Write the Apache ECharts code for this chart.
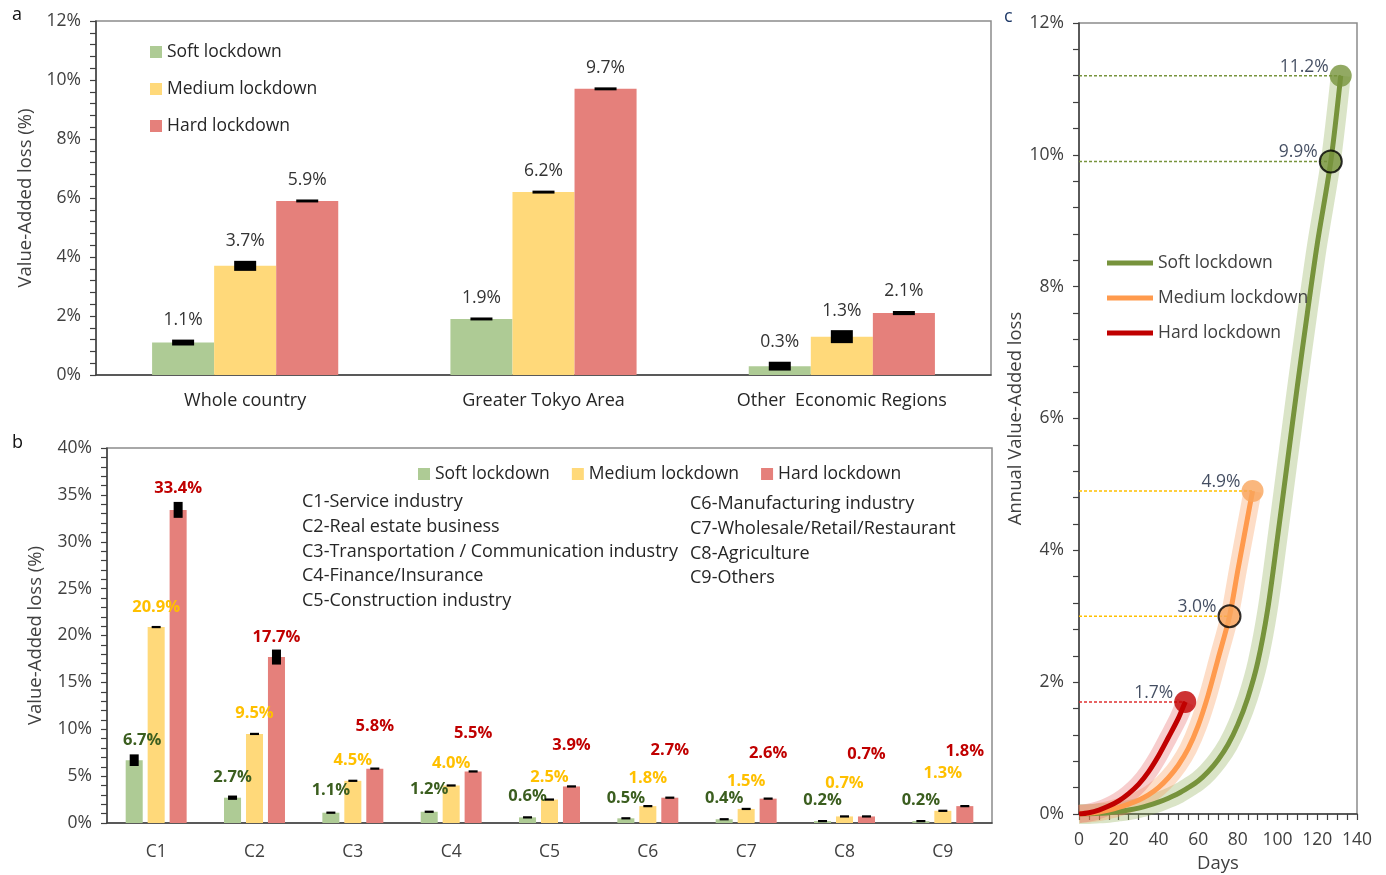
<!DOCTYPE html>
<html>
<head>
<meta charset="utf-8">
<script src="https://cdn.jsdelivr.net/npm/echarts@6/dist/echarts.min.js"></script>
<style>
  html, body { margin: 0; padding: 0; background: #fff; }
  #chart { width: 1386px; height: 875px; }
</style>
</head>
<body>
<div id="chart"></div>
<script>
// ---------- data ----------
const lockdowns = ['Soft lockdown', 'Medium lockdown', 'Hard lockdown'];

// (a) value-added loss by region, %
const regions = ['Whole country', 'Greater Tokyo Area', 'Other  Economic Regions'];
const regionSoft = [1.1, 1.9, 0.3];
const regionMedium = [3.7, 6.2, 1.3];
const regionHard = [5.9, 9.7, 2.1];
const regionSoftErr = [0.10, 0.05, 0.15];
const regionMediumErr = [0.17, 0.05, 0.22];
const regionHardErr = [0.05, 0.05, 0.07];

// (b) value-added loss by sector, %
const sectors = ['C1', 'C2', 'C3', 'C4', 'C5', 'C6', 'C7', 'C8', 'C9'];
const sectorSoft = [6.7, 2.7, 1.1, 1.2, 0.6, 0.5, 0.4, 0.2, 0.2];
const sectorMedium = [20.9, 9.5, 4.5, 4.0, 2.5, 1.8, 1.5, 0.7, 1.3];
const sectorHard = [33.4, 17.7, 5.8, 5.5, 3.9, 2.7, 2.6, 0.7, 1.8];
const sectorSoftErr = [0.62, 0.23, 0.12, 0.12, 0.12, 0.12, 0.12, 0.12, 0.12];
const sectorMediumErr = [0.12, 0.12, 0.12, 0.12, 0.12, 0.12, 0.12, 0.12, 0.12];
const sectorHardErr = [0.85, 0.80, 0.12, 0.12, 0.12, 0.12, 0.12, 0.12, 0.12];
const sectorNotesLeft = [
  'C1-Service industry',
  'C2-Real estate business',
  'C3-Transportation / Communication industry',
  'C4-Finance/Insurance',
  'C5-Construction industry'
];
const sectorNotesRight = [
  'C6-Manufacturing industry',
  'C7-Wholesale/Retail/Restaurant',
  'C8-Agriculture',
  'C9-Others'
];

// (c) annual value-added loss over lockdown days, [day, %]
const softCurve = [[0, 0], [5, 0], [10, 0.01], [15, 0.02], [20, 0.04], [25, 0.06], [30, 0.09],
  [35, 0.13], [40, 0.18], [45, 0.24], [50, 0.31], [55, 0.4], [60, 0.5], [65, 0.64], [70, 0.82],
  [75, 1.05], [80, 1.36], [85, 1.76], [90, 2.3], [95, 3.1], [100, 4.2], [105, 5.35], [110, 6.5],
  [115, 7.6], [120, 8.65], [126.8, 9.9], [131.8, 11.2]];
const mediumCurve = [[0, 0], [5, 0.01], [10, 0.03], [15, 0.06], [20, 0.1], [25, 0.15], [30, 0.21],
  [35, 0.29], [40, 0.4], [45, 0.55], [50, 0.74], [55, 0.99], [60, 1.34], [65, 1.8], [70, 2.35],
  [75.8, 3.0], [80, 3.7], [84, 4.35], [87.4, 4.9]];
const hardCurve = [[0, 0], [5, 0.02], [10, 0.06], [15, 0.12], [20, 0.2], [25, 0.31], [30, 0.45],
  [35, 0.64], [40, 0.88], [45, 1.16], [50, 1.45], [53.5, 1.7]];
const softMarks = [[126.8, 9.9], [131.8, 11.2]];
const mediumMarks = [[75.8, 3.0], [87.4, 4.9]];
const hardMarks = [[53.5, 1.7]];

// ---------- layout / styling ----------
const FONT = '"Open Sans", sans-serif';
const AXIS = '#404040';
const BORDER = '#8c8c8c';
const BAR_COLORS = ['#AECB95', '#FFD97A', '#E5807B'];
const SECTOR_LABEL_COLORS = ['#3B5E1F', '#FFC000', '#C00000'];
const CURVE_COLORS = ['#77933C', '#FF9A4D', '#C00000'];
const MARK_COLORS = ['#77933C', '#F9A55C', '#C00000'];
const BAND_COLORS = ['rgba(140,170,80,0.32)', 'rgba(250,150,80,0.32)', 'rgba(230,90,90,0.30)'];
const BAND_WIDTHS = [20, 18, 18];
const GUIDE_COLORS = ['#77933C', '#FFC000', '#E03030'];

// label lift (px above bar top) for panel b
const sectorSoftLift = [20, 20, 22, 22, 21, 20, 21, 21, 21];
const sectorMediumLift = [20, 21, 21, 22, 22, 28, 28, 33, 38];
const sectorHardLift = [22, 20, 42, 38, 41, 47, 45, 62, 55];
const sectorSoftShift = [8, 0, 0, 0, 0, 0, 0, 0, 0];

const A_CAT_GAP = 0.376, A_BAR_GAP = 0;
const B_CAT_GAP = 0.38, B_BAR_GAP = 0.29;

// error bar (black box) plus value label drawn at the bar position
function errorBars(o) {
  return {
    type: 'custom',
    xAxisIndex: o.axis, yAxisIndex: o.axis,
    z: 5, silent: true, clip: false,
    data: o.values.map((v, i) => [i, v, o.errs[i]]),
    encode: { x: 0, y: 1 },
    renderItem(params, api) {
      const i = api.value(0), v = api.value(1), e = api.value(2);
      const band = api.size([1, 0])[0];
      const groupW = band * (1 - o.catGap);
      const w = groupW / (o.slots + (o.slots - 1) * o.barGap);
      const base = api.coord([i, v]);
      const x = base[0] - groupW / 2 + w / 2 + o.slot * w * (1 + o.barGap);
      const yHi = api.coord([i, v + e])[1];
      const yLo = api.coord([i, v - e])[1];
      const h = Math.max(yLo - yHi, o.minHeight);
      const top = base[1] - h / 2;
      const labelY = o.labelY(params.dataIndex, base[1], top);
      const dx = o.labelShift ? o.labelShift[params.dataIndex] : 0;
      return {
        type: 'group',
        children: [
          { type: 'rect', shape: { x: x - o.capWidth / 2, y: top, width: o.capWidth, height: h },
            style: { fill: '#000' } },
          { type: 'text', x: x + dx, y: labelY,
            style: { text: v.toFixed(1) + '%', fill: o.labelColor, fontSize: o.labelSize,
              fontWeight: o.labelWeight, fontFamily: FONT, align: 'center', verticalAlign: 'middle' } }
        ]
      };
    }
  };
}

function barSeries(name, values, axis, color, catGap, barGap) {
  return {
    type: 'bar', name, data: values,
    xAxisIndex: axis, yAxisIndex: axis,
    barCategoryGap: (catGap * 100) + '%', barGap: (barGap * 100) + '%',
    itemStyle: { color }, z: 2, silent: true
  };
}

const regionSets = [[regionSoft, regionSoftErr], [regionMedium, regionMediumErr], [regionHard, regionHardErr]];
const sectorSets = [[sectorSoft, sectorSoftErr, sectorSoftLift], [sectorMedium, sectorMediumErr, sectorMediumLift],
  [sectorHard, sectorHardErr, sectorHardLift]];

const series = [];

regionSets.forEach(([vals], k) => series.push(barSeries(lockdowns[k], vals, 0, BAR_COLORS[k], A_CAT_GAP, A_BAR_GAP)));
regionSets.forEach(([vals, errs], k) => series.push(errorBars({
  axis: 0, values: vals, errs, slot: k, slots: 3, catGap: A_CAT_GAP, barGap: A_BAR_GAP,
  capWidth: 22, minHeight: 2.5, labelColor: '#333', labelSize: 17.5, labelWeight: 'normal',
  labelY: (i, barTop, errTop) => errTop - 19.5
})));

sectorSets.forEach(([vals], k) => series.push(barSeries(lockdowns[k], vals, 1, BAR_COLORS[k], B_CAT_GAP, B_BAR_GAP)));
sectorSets.forEach(([vals, errs, lift], k) => series.push(errorBars({
  axis: 1, values: vals, errs, slot: k, slots: 3, catGap: B_CAT_GAP, barGap: B_BAR_GAP,
  capWidth: 9, minHeight: 2, labelColor: SECTOR_LABEL_COLORS[k], labelSize: 16.5, labelWeight: 'bold',
  labelShift: k === 0 ? sectorSoftShift : null,
  labelY: (i, barTop) => barTop - lift[i]
})));

const curves = [softCurve, mediumCurve, hardCurve];
const marks = [softMarks, mediumMarks, hardMarks];

// uncertainty bands under the curves
curves.forEach((c, k) => series.push({
  type: 'line', data: c, xAxisIndex: 2, yAxisIndex: 2, smooth: 0.3, symbol: 'none', silent: true,
  lineStyle: { width: BAND_WIDTHS[k], color: BAND_COLORS[k], cap: 'butt' }, z: 1
}));
// guide lines from the axis to each marked value
marks.forEach((ms, k) => ms.forEach(m => series.push({
  type: 'line', data: [[0, m[1]], m], xAxisIndex: 2, yAxisIndex: 2, symbol: 'none', silent: true,
  lineStyle: { width: 1.5, type: [3, 2], color: GUIDE_COLORS[k] }, z: 2
})));
// main curves
curves.forEach((c, k) => series.push({
  type: 'line', name: lockdowns[k], data: c, xAxisIndex: 2, yAxisIndex: 2, smooth: 0.3,
  symbol: 'none', silent: true, lineStyle: { width: 5, color: CURVE_COLORS[k] }, z: 3
}));
// marked points with their values
marks.forEach((ms, k) => series.push({
  type: 'scatter', xAxisIndex: 2, yAxisIndex: 2, symbolSize: 22, z: 6, silent: true,
  data: ms.map((m, j) => ({
    value: m,
    itemStyle: j < ms.length - 1
      ? { color: MARK_COLORS[k], borderColor: '#000', borderWidth: 2 }
      : { color: MARK_COLORS[k] }
  })),
  label: {
    show: true, position: 'left', distance: 1, offset: [0, -9],
    formatter: p => p.value[1].toFixed(1) + '%',
    color: '#14203A', fontSize: 17.5, fontFamily: FONT
  }
}));

function valueAxisY(grid, max, interval, name, nameGap) {
  return {
    gridIndex: grid, type: 'value', min: 0, max, interval,
    name, nameLocation: 'middle', nameGap, nameRotate: 90,
    nameTextStyle: { fontSize: 18.5, color: '#404040', fontFamily: FONT },
    axisLine: { show: true, lineStyle: { color: AXIS, width: 1.5 } },
    axisTick: { show: true, length: 6, lineStyle: { color: AXIS, width: 1.2 } },
    minorTick: { show: true, splitNumber: 5, length: 6, lineStyle: { color: AXIS, width: 1.2 } },
    splitLine: { show: false },
    axisLabel: { formatter: '{value}%', fontSize: 17.5, color: '#404040', fontFamily: FONT, margin: 15 }
  };
}

const noteText = (list, x, y0, step) => list.map((t, i) => ({
  type: 'text', x, y: y0 + i * step,
  style: { text: t, fontSize: 18, fill: '#262626', fontFamily: FONT, verticalAlign: 'middle' }
}));

const legendText = { fontSize: 17.5, color: '#262626', lineHeight: 20, fontFamily: FONT };

const gridBase = { show: true, borderColor: BORDER, borderWidth: 1.5, containLabel: false, outerBoundsMode: 'none' };

const option = {
  animation: false,
  textStyle: { fontFamily: FONT },
  grid: [
    Object.assign({ left: 96, top: 21, width: 895, height: 354 }, gridBase),
    Object.assign({ left: 107, top: 448, width: 885, height: 375 }, gridBase),
    Object.assign({ left: 1079, top: 23, width: 278, height: 791 }, gridBase)
  ],
  xAxis: [
    { gridIndex: 0, type: 'category', data: regions, axisTick: { show: false },
      axisLine: { lineStyle: { color: AXIS, width: 1.5 } },
      axisLabel: { fontSize: 18, color: '#262626', margin: 17, fontFamily: FONT } },
    { gridIndex: 1, type: 'category', data: sectors, axisTick: { show: false },
      axisLine: { lineStyle: { color: AXIS, width: 1.5 } },
      axisLabel: { fontSize: 17.5, color: '#404040', margin: 20, fontFamily: FONT } },
    { gridIndex: 2, type: 'value', min: 0, max: 140, interval: 20,
      name: 'Days', nameLocation: 'middle', nameGap: 40,
      nameTextStyle: { fontSize: 18.5, color: '#404040', fontFamily: FONT },
      axisLine: { lineStyle: { color: AXIS, width: 1.5 } },
      axisTick: { show: true, length: 6, lineStyle: { color: AXIS, width: 1.2 } },
      minorTick: { show: true, splitNumber: 4, length: 6, lineStyle: { color: AXIS, width: 1.2 } },
      splitLine: { show: false },
      axisLabel: { fontSize: 17.5, color: '#404040', margin: 17, fontFamily: FONT } }
  ],
  yAxis: [
    valueAxisY(0, 12, 2, 'Value-Added loss (%)', 60),
    valueAxisY(1, 40, 5, 'Value-Added loss (%)', 62),
    valueAxisY(2, 12, 2, 'Annual Value-Added loss', 48)
  ],
  legend: [
    { data: lockdowns, orient: 'vertical', left: 145, top: 37, itemWidth: 12, itemHeight: 12,
      itemGap: 17, icon: 'rect', selectedMode: false, textStyle: legendText },
    { data: lockdowns, orient: 'horizontal', left: 413, top: 459, itemWidth: 12, itemHeight: 12,
      itemGap: 22, icon: 'rect', selectedMode: false, textStyle: legendText },
    { data: lockdowns.map((n, k) => ({ name: n, icon: 'rect', itemStyle: { color: CURVE_COLORS[k] } })),
      orient: 'vertical', left: 1102, top: 248, itemWidth: 46, itemHeight: 5, itemGap: 15,
      selectedMode: false, textStyle: Object.assign({}, legendText, { color: '#404040' }) }
  ],
  graphic: [
    { type: 'text', x: 12, y: 15, style: { text: 'a', fontSize: 18, fill: '#111', fontFamily: FONT, verticalAlign: 'middle' } },
    { type: 'text', x: 12, y: 443, style: { text: 'b', fontSize: 18, fill: '#111', fontFamily: FONT, verticalAlign: 'middle' } },
    { type: 'text', x: 1004, y: 17, style: { text: 'c', fontSize: 18, fill: '#1F3A68', fontFamily: FONT, verticalAlign: 'middle' } },
    ...noteText(sectorNotesLeft, 302, 502, 24.7),
    ...noteText(sectorNotesRight, 690, 504, 24.7)
  ],
  series
};

const chart = echarts.init(document.getElementById('chart'));
chart.setOption(option);
</script>
</body>
</html>
